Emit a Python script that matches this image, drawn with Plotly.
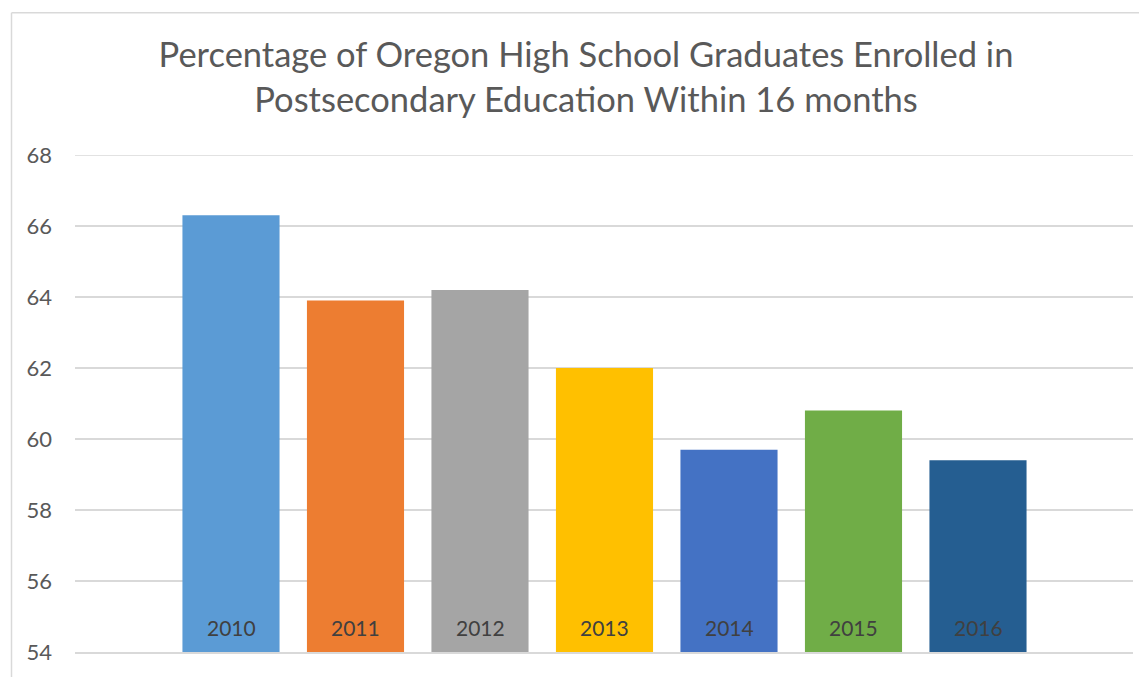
import plotly.graph_objects as go

years = ["2010", "2011", "2012", "2013", "2014", "2015", "2016"]
values = [66.3, 63.9, 64.2, 62.0, 59.7, 60.8, 59.4]
colors = ["#5B9BD5", "#ED7D31", "#A5A5A5", "#FFC000", "#4472C4", "#70AD47", "#255E91"]
title_text = "Percentage of Oregon High School Graduates Enrolled in<br>Postsecondary Education Within 16 months"
y_min, y_max, y_step = 54, 68, 2

FONT = "Lato, Calibri, sans-serif"

# page body has an 8px margin; figure sized to fit the viewport
OFF = 8
W, H = 1147 - OFF, 677 - OFF
ml, mr, mt, mb = 75 - OFF, 14, 155 - OFF, 21
pw, ph = W - ml - mr, H - mt - mb

def px_x(p):
    return (p - OFF - ml) / pw

def px_y(p):
    return (H - mb - (p - OFF)) / ph

fig = go.Figure()
fig.add_trace(go.Bar(
    x=years, y=values, marker=dict(color=colors, line=dict(width=0)),
    width=0.78, showlegend=False, hoverinfo="x+y",
))

for i, yr in enumerate(years):
    fig.add_annotation(x=i, y=y_min, xref="x", yref="y", text=yr, showarrow=False,
                       yshift=25, yanchor="middle",
                       font=dict(family=FONT, size=21, color="#404040"))

# chart outer border (left and top visible in the frame)
fig.add_shape(type="line", xref="paper", yref="paper", x0=px_x(11.5), x1=px_x(1200),
              y0=px_y(11.5), y1=px_y(11.5), line=dict(color="#D9D9D9", width=1.5))
fig.add_shape(type="line", xref="paper", yref="paper", x0=px_x(11.5), x1=px_x(11.5),
              y0=px_y(11.5), y1=px_y(700), line=dict(color="#D9D9D9", width=1.5))
# top gridline at the range edge
fig.add_shape(type="line", xref="paper", yref="y", x0=0, x1=1, y0=y_max, y1=y_max,
              line=dict(color="#D9D9D9", width=1.5))

fig.update_layout(
    width=W, height=H,
    margin=dict(l=ml, r=mr, t=mt, b=mb, pad=0),
    paper_bgcolor="white", plot_bgcolor="white",
    font=dict(family=FONT, color="#595959"),
    title=dict(text=title_text, x=(586 - OFF) / W, xanchor="center", xref="container",
               y=1 - 59 / H, yanchor="top", yref="container",
               font=dict(family=FONT, size=34.5, color="#595959")),
    bargap=0.2,
)
fig.update_xaxes(type="category", range=[-1.253, 7.245], showticklabels=False,
                 showgrid=False, showline=True, linecolor="#D9D9D9", linewidth=1.5,
                 ticks="", zeroline=False, fixedrange=True)
fig.update_yaxes(range=[y_min, y_max], dtick=y_step, tick0=y_min, showgrid=True,
                 gridcolor="#D9D9D9", gridwidth=1.5, zeroline=False, ticks="",
                 ticklabelstandoff=22, tickfont=dict(family=FONT, size=22, color="#595959"),
                 showline=False, fixedrange=True)

fig.write_html("out.html")
